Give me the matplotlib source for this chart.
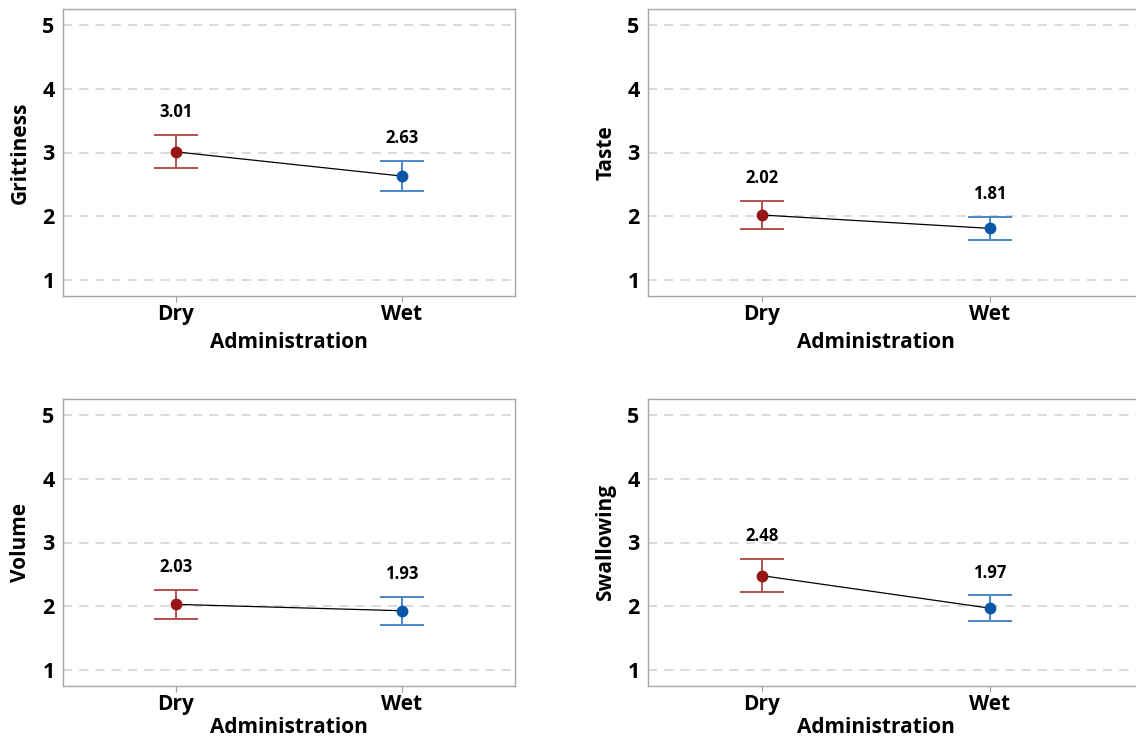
import matplotlib
matplotlib.use("Agg")
import matplotlib.pyplot as plt

plt.rcParams['font.family'] = ['Open Sans', 'DejaVu Sans']

# ============================
# Data
# ============================
groups = ["Dry", "Wet"]
measures = ["Grittiness", "Taste", "Volume", "Swallowing"]
means = {
    "Grittiness": [3.01, 2.63],
    "Taste": [2.02, 1.81],
    "Volume": [2.03, 1.93],
    "Swallowing": [2.48, 1.97],
}
# half-width of the interval bars
ci = {
    "Grittiness": [0.26, 0.24],
    "Taste": [0.22, 0.18],
    "Volume": [0.23, 0.22],
    "Swallowing": [0.26, 0.20],
}
yticks = [1, 2, 3, 4, 5]

point_colors = ["#961616", "#0a57a8"]
bar_colors = ["#b4504f", "#4a87c9"]

fig = plt.figure(figsize=(11.36, 7.4), dpi=100)

# panel positions [left, bottom, width, height] in figure fractions
W, H = 1136, 740
positions = [
    (63 / W, (H - 296) / H, 452 / W, 287 / H),
    (648 / W, (H - 296) / H, 500 / W, 287 / H),
    (63 / W, (H - 686) / H, 452 / W, 287 / H),
    (648 / W, (H - 686) / H, 500 / W, 287 / H),
]
# right-hand panels run past the figure edge
xlims = [(-0.5, 1.5), (-0.5, 1.693), (-0.5, 1.5), (-0.5, 1.693)]
label_x = [0.5, 0.456, 0.5, 0.456]
label_y = [-0.125, -0.125, -0.108, -0.108]

for i, name in enumerate(measures):
    ax = fig.add_axes(positions[i])
    x = list(range(len(groups)))
    m = means[name]
    e = ci[name]

    ax.plot(x, m, color="black", lw=0.9, zorder=2)
    for j in x:
        ax.errorbar(j, m[j], yerr=e[j], fmt="none", ecolor=bar_colors[j],
                    elinewidth=1.4, capsize=16, capthick=1.4, zorder=3)
        ax.plot(j, m[j], "o", color=point_colors[j], ms=7.5, zorder=4)
        ax.annotate(f"{m[j]:.2f}", (j, m[j] + e[j]), xytext=(0, 10),
                    textcoords="offset points", ha="center", va="bottom",
                    fontsize=12, fontweight="bold")

    ax.set_xlim(*xlims[i])
    ax.set_ylim(0.75, 5.25)
    ax.set_yticks(yticks)
    ax.set_xticks(x)
    ax.set_xticklabels(groups)
    ax.grid(axis="y", linestyle=(0, (5, 4)), color="#d8d8d8", lw=1.3)
    ax.set_axisbelow(True)
    ax.tick_params(axis="y", length=0, pad=6, labelsize=15.5)
    ax.tick_params(axis="x", length=4, color="#a0a0a0", pad=2, labelsize=15)
    for lab in ax.get_xticklabels() + ax.get_yticklabels():
        lab.set_fontweight("bold")
    for sp in ax.spines.values():
        sp.set_color("#a6a6a6")
        sp.set_linewidth(1.0)

    ax.set_ylabel(name, fontsize=15, fontweight="bold", labelpad=8)
    ax.set_xlabel("Administration", fontsize=15, fontweight="bold")
    ax.xaxis.set_label_coords(label_x[i], label_y[i])

plt.savefig("out.png", dpi=100)
